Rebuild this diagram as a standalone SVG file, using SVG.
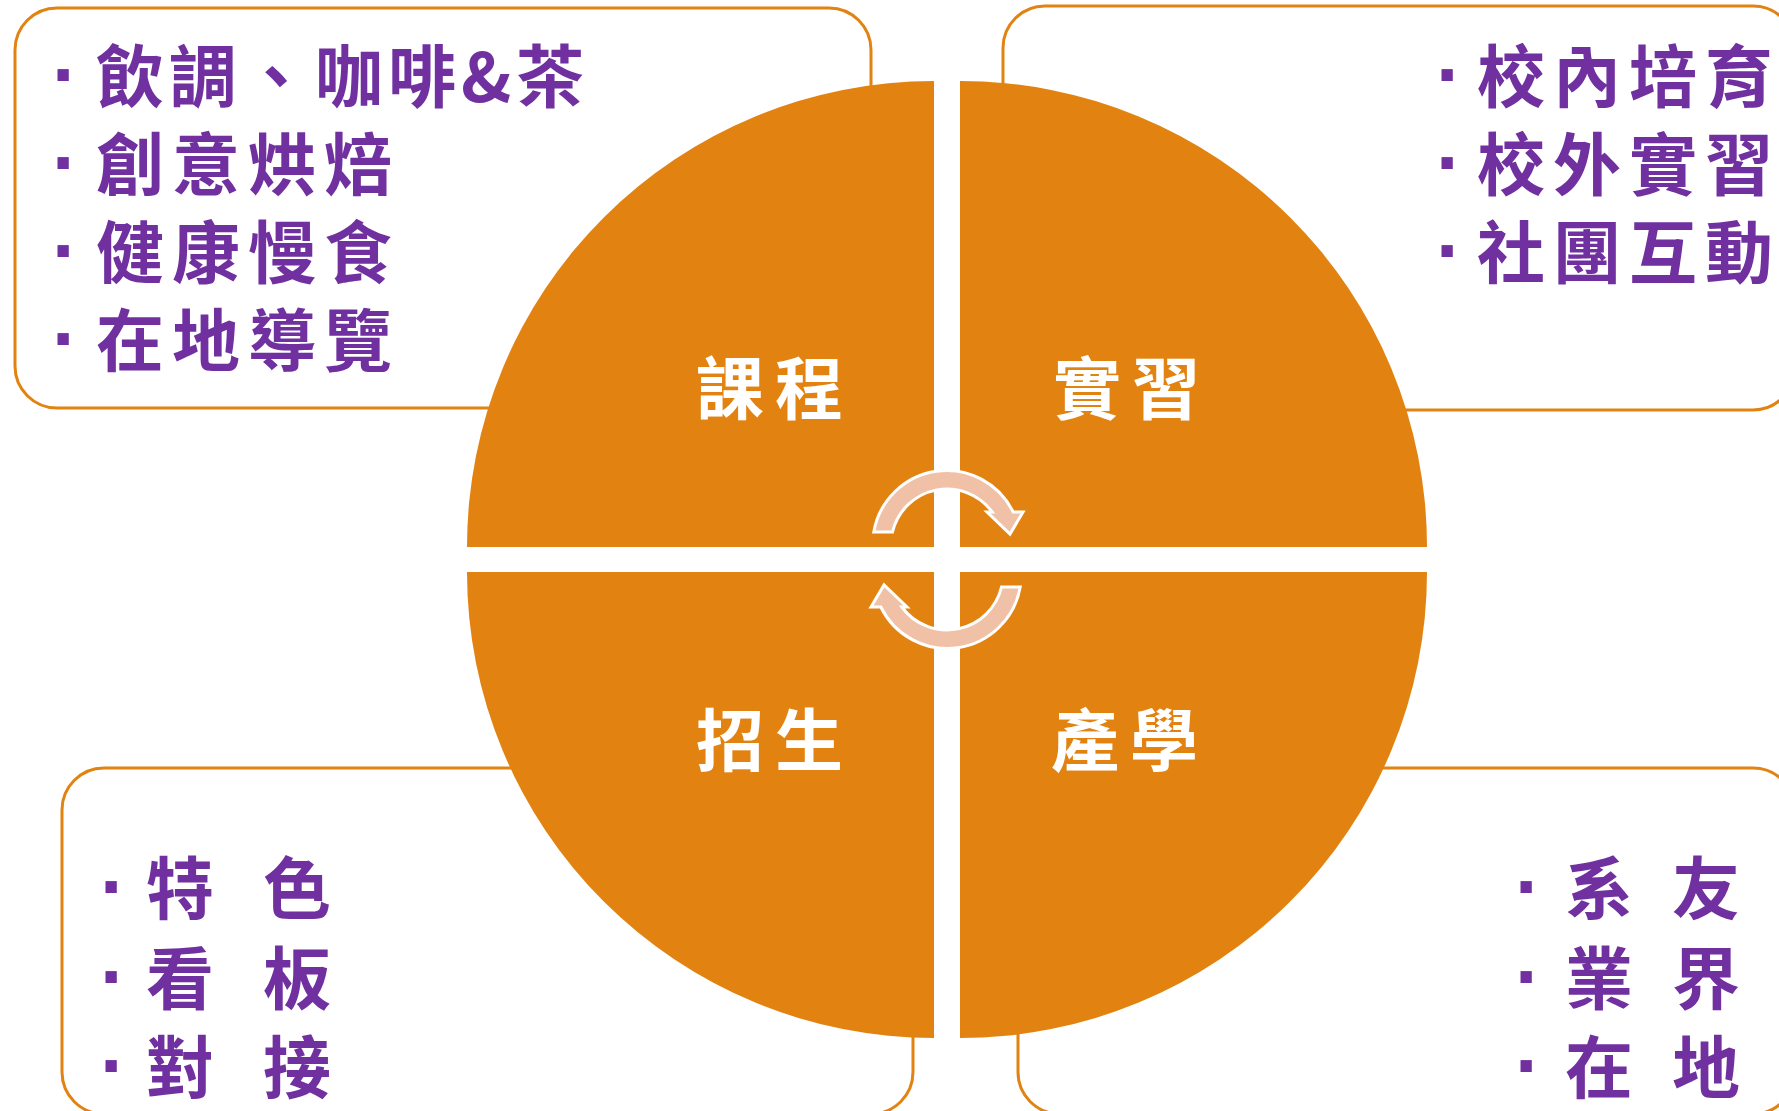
<svg xmlns="http://www.w3.org/2000/svg" width="1779" height="1111" viewBox="0 0 1779 1111">
<style>
.box{fill:#ffffff;stroke:#E28311;stroke-width:3}
.quad{fill:#E28311}
.item{font-family:"Noto Sans CJK TC","Noto Sans CJK SC",sans-serif;font-size:68px;font-weight:700;fill:#7030A0;letter-spacing:8px}
.dot{font-family:"Liberation Sans",Arial,sans-serif;font-size:80px;font-weight:700;letter-spacing:0}
.lbl{font-family:"Noto Sans CJK TC","Noto Sans CJK SC",sans-serif;font-size:68px;font-weight:700;fill:#ffffff;letter-spacing:11px}
.arrow{fill:#F0C1A7;stroke:#ffffff;stroke-width:3;stroke-linejoin:miter}
</style>
<rect width="1779" height="1111" fill="#ffffff"/>
<g id="box-course"><rect class="box" x="15" y="8" width="856" height="400" rx="42" ry="42"/>
<text class="item"><tspan class="dot" x="52" y="102">·</tspan><tspan x="96" y="102" style="letter-spacing:5px">飲調、咖啡&amp;茶</tspan></text>
<text class="item"><tspan class="dot" x="52" y="190">·</tspan><tspan x="96" y="190">創意烘焙</tspan></text>
<text class="item"><tspan class="dot" x="52" y="278">·</tspan><tspan x="96" y="278">健康慢食</tspan></text>
<text class="item"><tspan class="dot" x="52" y="366">·</tspan><tspan x="96" y="366">在地導覽</tspan></text>
</g>
<g id="box-intern"><rect class="box" x="1003" y="6" width="792" height="404" rx="42" ry="42"/>
<text class="item"><tspan class="dot" x="1436" y="102">·</tspan><tspan x="1477" y="102">校內培育</tspan></text>
<text class="item"><tspan class="dot" x="1436" y="190">·</tspan><tspan x="1477" y="190">校外實習</tspan></text>
<text class="item"><tspan class="dot" x="1436" y="278">·</tspan><tspan x="1477" y="278">社團互動</tspan></text>
</g>
<g id="box-recruit"><rect class="box" x="62" y="768" width="851" height="346" rx="42" ry="42"/>
<text class="item"><tspan class="dot" x="100" y="914">·</tspan><tspan x="146" y="914">特</tspan> <tspan x="263" y="914">色</tspan></text>
<text class="item"><tspan class="dot" x="100" y="1004">·</tspan><tspan x="146" y="1004">看</tspan> <tspan x="263" y="1004">板</tspan></text>
<text class="item"><tspan class="dot" x="100" y="1093">·</tspan><tspan x="146" y="1093">對</tspan> <tspan x="263" y="1093">接</tspan></text>
</g>
<g id="box-industry"><rect class="box" x="1018" y="768" width="777" height="346" rx="42" ry="42"/>
<text class="item"><tspan class="dot" x="1515" y="914">·</tspan><tspan x="1565" y="914">系</tspan> <tspan x="1672" y="914">友</tspan></text>
<text class="item"><tspan class="dot" x="1515" y="1004">·</tspan><tspan x="1565" y="1004">業</tspan> <tspan x="1672" y="1004">界</tspan></text>
<text class="item"><tspan class="dot" x="1515" y="1093">·</tspan><tspan x="1565" y="1093">在</tspan> <tspan x="1672" y="1093">地</tspan></text>
</g>
<g id="q-course"><path class="quad" d="M934 547 L467 547 A467 466 0 0 1 934 81 Z"/><text class="lbl" x="696" y="414">課程</text></g>
<g id="q-intern"><path class="quad" d="M960 547 L960 81 A467 466 0 0 1 1427 547 Z"/><text class="lbl" x="1053" y="414">實習</text></g>
<g id="q-industry"><path class="quad" d="M960 572 L1427 572 A467 466 0 0 1 960 1038 Z"/><text class="lbl" x="1051" y="766">產學</text></g>
<g id="q-recruit"><path class="quad" d="M934 572 L934 1038 A467 466 0 0 1 467 572 Z"/><text class="lbl" x="696" y="766">招生</text></g>
<g id="connectors">
<path id="arrow-top" class="arrow" d="M873.8 532 A74 74 0 0 1 1013.2 512 L1023 512 L1010 534 L987 512 L992.2 512 A56 56 0 0 0 892.5 532 Z"/>
<path id="arrow-bottom" class="arrow" transform="rotate(180 947 559.5)" d="M873.8 532 A74 74 0 0 1 1013.2 512 L1023 512 L1010 534 L987 512 L992.2 512 A56 56 0 0 0 892.5 532 Z"/>
</g>
</svg>
